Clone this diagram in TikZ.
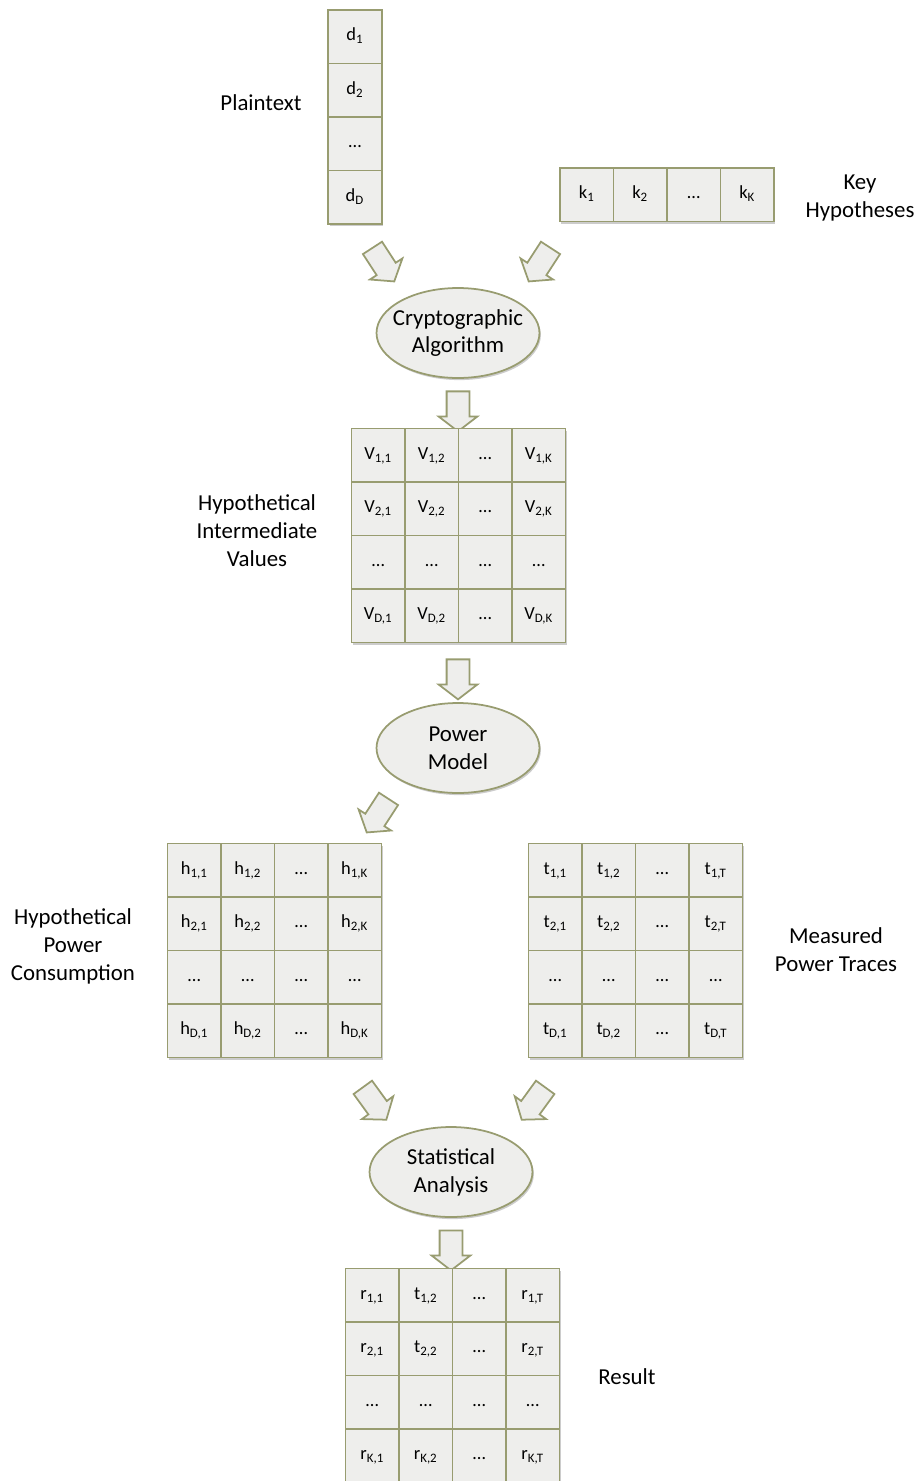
\documentclass[tikz,border=0pt]{standalone}
\usepackage{fontspec}
\setmainfont{Carlito}
\usetikzlibrary{positioning,shapes.geometric,shapes.arrows,shadows}

\definecolor{oliveline}{RGB}{152,156,112}
\definecolor{cellfill}{RGB}{238,238,236}

\tikzset{
  softshadow/.style={drop shadow={shadow xshift=0.8pt, shadow yshift=-1.2pt, opacity=0.2, fill=black}},
  cellback/.style={fill=cellfill, inner sep=0pt, outer sep=0pt, softshadow},
  cell/.style={draw=oliveline, line width=1pt, minimum width=1.07cm, minimum height=1.07cm,
    inner sep=0pt, outer sep=0pt, text height=1.5ex, text depth=0.5ex, font=\fontsize{10.5}{12}\selectfont},
  stage/.style={ellipse, draw=oliveline, fill=cellfill, line width=1pt, minimum width=3.26cm,
    minimum height=1.8cm, inner sep=0pt, softshadow},
  stagetext/.style={align=center, font=\fontsize{13}{15.9}\selectfont},
  sidetext/.style={align=center, font=\fontsize{13}{15.9}\selectfont},
  fatarrow/.style={single arrow, draw=oliveline, fill=cellfill, line width=1pt, minimum height=0.8cm,
    inner sep=0.21cm, single arrow head extend=0.16cm, single arrow tip angle=105},
}

% one row of four cells: name, placement, entries
\newcommand{\cellrow}[6]{%
  \node[cell, #2] (#1-1) {#3};
  \node[cell, right=0pt of #1-1] (#1-2) {#4};
  \node[cell, right=0pt of #1-2] (#1-3) {#5};
  \node[cell, right=0pt of #1-3] (#1-4) {#6};
}
% shaded 4x4 block behind a grid
\newcommand{\gridback}[2]{%
  \node[cellback, minimum width=4.28cm, minimum height=4.28cm] (#1) at (#2) {};
}
\newcommand{\sub}[1]{\textsubscript{#1}}

\begin{document}
\begin{tikzpicture}[x=0.02cm, y=-0.02cm]
\useasboundingbox (0,0) rectangle (917,1481);

% inputs
\node[cellback, minimum width=1.07cm, minimum height=4.28cm] (D) at (355,117) {};
\node[cell, below=0pt of D.north] (d-1) {d\sub{1}};
\node[cell, below=0pt of d-1] (d-2) {d\sub{2}};
\node[cell, below=0pt of d-2] (d-3) {\ldots};
\node[cell, below=0pt of d-3] (d-4) {d\sub{D}};
\node[sidetext] (plaintext) at (261,103) {Plaintext};

\node[cellback, minimum width=4.28cm, minimum height=1.07cm] (K) at (667,194.75) {};
\cellrow{k}{right=0pt of K.west}{k\sub{1}}{k\sub{2}}{\ldots}{k\sub{K}}
\node[sidetext] (keyhyp) at (860,198) {Key\\Hypotheses};

\node[fatarrow, rotate=-57] (arr-pt) at (381,261) {};
\node[fatarrow, rotate=-123] (arr-key) at (542,261) {};

% algorithm
\node[stage] (alg) at (458,333) {};
\node[stagetext] (alg-text) at (alg) {Cryptographic\\Algorithm};
\node[fatarrow, rotate=-90] (arr-alg) at (458,407) {};

% intermediate values
\gridback{V}{458.5,535.5}
\cellrow{V-1}{below right=0pt of V.north west}{V\sub{1,1}}{V\sub{1,2}}{\ldots}{V\sub{1,K}}
\cellrow{V-2}{below=0pt of V-1-1}{V\sub{2,1}}{V\sub{2,2}}{\ldots}{V\sub{2,K}}
\cellrow{V-3}{below=0pt of V-2-1}{\ldots}{\ldots}{\ldots}{\ldots}
\cellrow{V-4}{below=0pt of V-3-1}{V\sub{D,1}}{V\sub{D,2}}{\ldots}{V\sub{D,K}}
\node[sidetext] (values) at (257,531) {Hypothetical\\Intermediate\\Values};
\node[fatarrow, rotate=-90] (arr-val) at (458,675) {};

% power model
\node[stage] (model) at (458,748) {};
\node[stagetext] (model-text) at (model) {Power\\Model};
\node[fatarrow, rotate=-123] (arr-model) at (380,812) {};

% hypothetical power consumption
\gridback{H}{274.5,950.5}
\cellrow{h-1}{below right=0pt of H.north west}{h\sub{1,1}}{h\sub{1,2}}{\ldots}{h\sub{1,K}}
\cellrow{h-2}{below=0pt of h-1-1}{h\sub{2,1}}{h\sub{2,2}}{\ldots}{h\sub{2,K}}
\cellrow{h-3}{below=0pt of h-2-1}{\ldots}{\ldots}{\ldots}{\ldots}
\cellrow{h-4}{below=0pt of h-3-1}{h\sub{D,1}}{h\sub{D,2}}{\ldots}{h\sub{D,K}}
\node[sidetext] (consumption) at (73,946) {Hypothetical\\Power\\Consumption};

% measured traces
\gridback{T}{635.5,950.5}
\cellrow{t-1}{below right=0pt of T.north west}{t\sub{1,1}}{t\sub{1,2}}{\ldots}{t\sub{1,T}}
\cellrow{t-2}{below=0pt of t-1-1}{t\sub{2,1}}{t\sub{2,2}}{\ldots}{t\sub{2,T}}
\cellrow{t-3}{below=0pt of t-2-1}{\ldots}{\ldots}{\ldots}{\ldots}
\cellrow{t-4}{below=0pt of t-3-1}{t\sub{D,1}}{t\sub{D,2}}{\ldots}{t\sub{D,T}}
\node[sidetext] (traces) at (836,950) {Measured\\Power Traces};

\node[fatarrow, rotate=-54] (arr-hyp) at (372,1100) {};
\node[fatarrow, rotate=-126] (arr-tr) at (536,1100) {};

% statistics
\node[stage] (stat) at (451,1172) {};
\node[stagetext] (stat-text) at (stat) {Statistical\\Analysis};
\node[fatarrow, rotate=-90] (arr-stat) at (451,1246) {};

% result
\gridback{R}{452.5,1375.5}
\cellrow{r-1}{below right=0pt of R.north west}{r\sub{1,1}}{t\sub{1,2}}{\ldots}{r\sub{1,T}}
\cellrow{r-2}{below=0pt of r-1-1}{r\sub{2,1}}{t\sub{2,2}}{\ldots}{r\sub{2,T}}
\cellrow{r-3}{below=0pt of r-2-1}{\ldots}{\ldots}{\ldots}{\ldots}
\cellrow{r-4}{below=0pt of r-3-1}{r\sub{K,1}}{r\sub{K,2}}{\ldots}{r\sub{K,T}}
\node[sidetext] (result) at (627,1377) {Result};
\end{tikzpicture}
\end{document}
